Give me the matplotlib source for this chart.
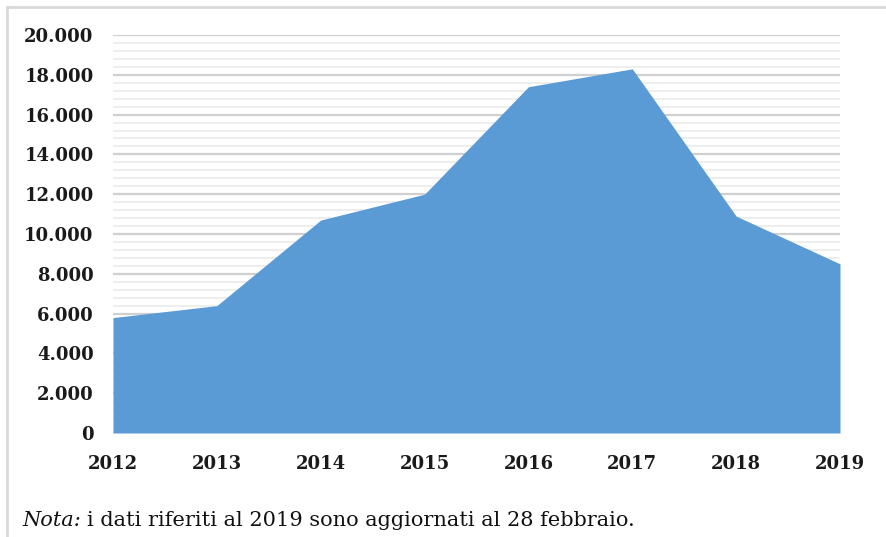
import matplotlib
matplotlib.use("Agg")
import matplotlib.pyplot as plt
from matplotlib.ticker import MultipleLocator, FuncFormatter
from matplotlib.lines import Line2D

years = ["2012", "2013", "2014", "2015", "2016", "2017", "2018", "2019"]
values = [5800, 6400, 10700, 12000, 17400, 18300, 10900, 8500]

fig = plt.figure(figsize=(8.86, 5.37), dpi=100)
ax = fig.add_axes([113/886, 1-433/537, (840-113)/886, (433-35)/537])

x = list(range(len(years)))
ax.fill_between(x, values, 0, color="#5B9BD5", linewidth=0, zorder=3)

ax.set_xlim(0, len(years)-1)
ax.set_ylim(0, 20000)
ax.yaxis.set_major_locator(MultipleLocator(2000))
ax.yaxis.set_minor_locator(MultipleLocator(400))
ax.yaxis.set_major_formatter(FuncFormatter(lambda v, p: "0" if v == 0 else f"{int(v):,}".replace(",", ".")))
ax.set_xticks(x)
ax.set_xticklabels(years)

ax.grid(which="major", axis="y", color="#d0d0d0", linewidth=1.6, zorder=1)
ax.grid(which="minor", axis="y", color="#ebebeb", linewidth=1.2, zorder=1)
ax.grid(which="major", axis="x", visible=False)
for s in ax.spines.values():
    s.set_visible(False)
ax.tick_params(axis="both", which="both", length=0)
ax.tick_params(axis="y", pad=14)
ax.tick_params(axis="x", pad=16)
for lab in ax.get_xticklabels() + ax.get_yticklabels():
    lab.set_fontfamily("DejaVu Serif")
    lab.set_fontweight("bold")
    lab.set_fontsize(13)
    lab.set_color("#1a1a1a")

# frame lines (top and left)
fig.add_artist(Line2D([7/886, 1.0], [1-7/537, 1-7/537], color="#d9d9d9", linewidth=2))
fig.add_artist(Line2D([7/886, 7/886], [0, 1-7/537], color="#d9d9d9", linewidth=2))

t1 = fig.text(22/886, 1-520/537, "Nota:", fontfamily="DejaVu Serif", fontstyle="italic",
              fontsize=15, va="center", ha="left", color="#111111")
fig.canvas.draw()
bb = t1.get_window_extent(renderer=fig.canvas.get_renderer())
fig.text((bb.x1 + 6)/886, 1-520/537, "i dati riferiti al 2019 sono aggiornati al 28 febbraio.",
         fontfamily="DejaVu Serif", fontsize=15, va="center", ha="left", color="#111111")

fig.savefig("out.png", dpi=100)
